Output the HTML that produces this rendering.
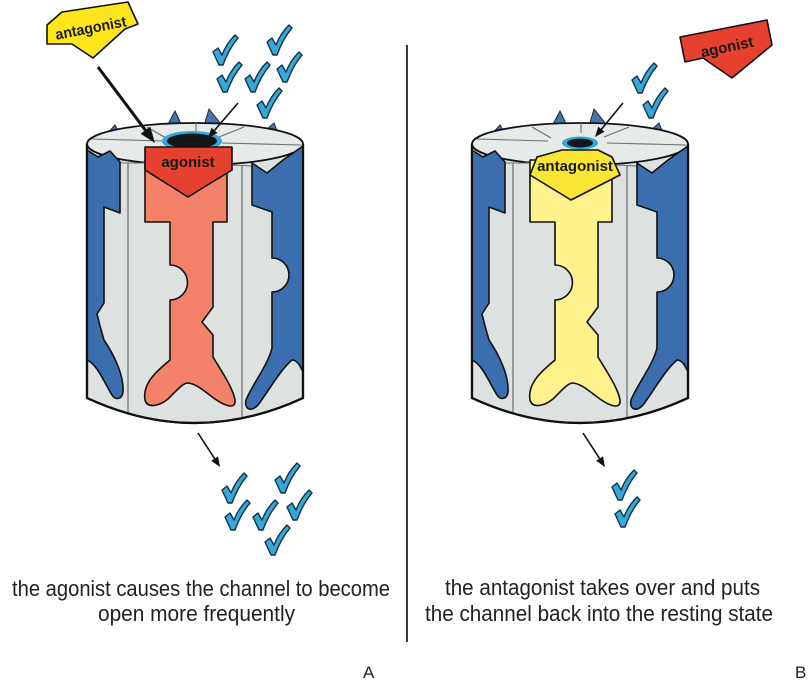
<!DOCTYPE html>
<html>
<head>
<meta charset="utf-8">
<style>
  html, body { margin: 0; padding: 0; background: #ffffff; }
  svg { display: block; }
  .cap { font-family: "Liberation Sans", Arial, sans-serif; font-size: 22px; fill: #222; }
  .lbl { font-family: "Liberation Sans", Arial, sans-serif; font-size: 15px; font-weight: bold; fill: #1a1a1a; }
  .ab { font-family: "Liberation Sans", Arial, sans-serif; font-size: 17px; fill: #222; }
</style>
</head>
<body>
<svg width="810" height="680" viewBox="0 0 810 680" xmlns="http://www.w3.org/2000/svg">
  <defs>
    <path id="ck" d="M0,17 L5,13 L9,20 C12,12 17,5 22,0 L25,3 C19,10 14,19 10,30 L6,30 Z"
          fill="#36a8d6" stroke="#13304a" stroke-width="1.4" stroke-linejoin="round"/>
    <path id="inner" stroke="#111" stroke-width="1.6" stroke-linejoin="round"
          d="M145,160 L145,222 L170,222 L170,265 A17.5,17.5 0 0 1 170,300 L170,360
             C158,370 142,383 145,400 C147,408 158,407 168,399 C176,391 182,384 187,383
             C196,383 205,392 215,399 C225,406 236,410 235,400 C233,388 222,372 213,357
             L213,335 L202,322 L213,307 L213,222 L227,222 L227,160 Z"/>
    <g id="cyl">
      <path d="M87,145 L87,398 Q195,448 303,398 L303,145 Z" fill="#dde2e1" stroke="#111" stroke-width="2.2"/>
      <g fill="#4a72ab" stroke="#1a2a3a" stroke-width="1">
        <polygon points="106,135 115,125 120,134"/>
        <polygon points="166,128 175,111 183,128"/>
        <polygon points="204,126 209,109 221,124"/>
        <polygon points="264,132 274,123 278,133"/>
      </g>
      <ellipse cx="195" cy="144" rx="108" ry="21" fill="#e6eae9" stroke="#111" stroke-width="1.8"/>
      <g stroke="#6b6f70" stroke-width="1.1">
        <line x1="147" y1="127" x2="166" y2="138"/>
        <line x1="92" y1="139" x2="163" y2="141"/>
        <line x1="196" y1="123" x2="196" y2="133"/>
        <line x1="244" y1="127" x2="219" y2="137"/>
        <line x1="222" y1="143" x2="301" y2="145"/>
        <line x1="120" y1="163" x2="145" y2="163"/>
        <line x1="232" y1="165" x2="252" y2="166"/>
      </g>
      <path fill="#3b6eae" stroke="#111" stroke-width="1.6" stroke-linejoin="round"
            d="M87,150 L98,157 L110,151 L120,162 L120,213 L104,207 L104,303 L97,314 L100,326 L104,340
               C114,355 124,375 123,392 C122,400 115,400 112,395 C104,382 97,364 87,360 Z"/>
      <path fill="#3b6eae" stroke="#111" stroke-width="1.6" stroke-linejoin="round"
            d="M303,146 L283,160 L267,173 L252,163 L252,205 L272,212 L272,258 A17,17 0 0 1 272,292 L272,348
               C268,365 252,385 246,400 C244,410 252,412 258,405 C268,392 280,370 292,360
               C298,360 301,368 303,372 Z"/>
      <g stroke="#6f7374" stroke-width="1.3">
        <line x1="128" y1="163" x2="128" y2="413"/>
        <line x1="242" y1="166" x2="242" y2="418"/>
      </g>
      <path d="M87,145 L87,398 Q195,448 303,398 L303,145" fill="none" stroke="#111" stroke-width="2.2"/>
    </g>
  </defs>

  <!-- ================= PANEL A ================= -->
  <use href="#cyl"/>
  <use href="#inner" fill="#f4826a"/>
  <ellipse cx="192" cy="141" rx="30" ry="10" fill="#2ca8df"/>
  <ellipse cx="192" cy="141" rx="25" ry="7.5" fill="#151515"/>
  <polygon points="145,147 232,147 232,170 188,197 145,170" fill="#e6402e" stroke="#111" stroke-width="1.6" stroke-linejoin="round"/>
  <text class="lbl" x="188" y="167" text-anchor="middle" font-size="16">agonist</text>

  <polygon points="47,44 47,25 62,12 128,2 138,24 125,29 93,58 72,44" fill="#ffe61c" stroke="#111" stroke-width="1.6" stroke-linejoin="round"/>
  <text class="lbl" x="91" y="33" text-anchor="middle" font-size="14" textLength="72" lengthAdjust="spacingAndGlyphs" transform="rotate(-11 91 29)">antagonist</text>

  <line x1="98" y1="67" x2="145.4" y2="130.2" stroke="#111" stroke-width="3"/>
  <polygon points="155,143 140.6,133.8 150.2,126.6" fill="#111"/>
  <line x1="238" y1="103" x2="214.5" y2="130.4" stroke="#111" stroke-width="1.6"/>
  <polygon points="208,138 211.5,127.8 217.5,133" fill="#111"/>
  <line x1="198" y1="433" x2="214.6" y2="458.6" stroke="#111" stroke-width="1.6"/>
  <polygon points="220,467 211.2,460.8 218,456.4" fill="#111"/>

  <use href="#ck" transform="translate(213,35)"/>
  <use href="#ck" transform="translate(267,25)"/>
  <use href="#ck" transform="translate(217,62)"/>
  <use href="#ck" transform="translate(245,62)"/>
  <use href="#ck" transform="translate(277,52)"/>
  <use href="#ck" transform="translate(257,88)"/>

  <use href="#ck" transform="translate(222,473)"/>
  <use href="#ck" transform="translate(275,463)"/>
  <use href="#ck" transform="translate(225,500)"/>
  <use href="#ck" transform="translate(253,500)"/>
  <use href="#ck" transform="translate(287,490)"/>
  <use href="#ck" transform="translate(265,525)"/>

  <!-- ================= PANEL B ================= -->
  <use href="#cyl" transform="translate(385,0)"/>
  <use href="#inner" fill="#fff28c" transform="translate(385,0)"/>
  <ellipse cx="580" cy="143" rx="18" ry="6.5" fill="#2ca8df"/>
  <ellipse cx="580" cy="143" rx="13" ry="4.5" fill="#151515"/>
  <polygon points="530,175 537,157 562,150 598,150 612,157 620,175 571,200" fill="#f9e534" stroke="#111" stroke-width="1.6" stroke-linejoin="round"/>
  <text class="lbl" x="575" y="171" text-anchor="middle">antagonist</text>

  <polygon points="680,37 767,20 772,45 732,78 703,58 685,62" fill="#e6402e" stroke="#111" stroke-width="1.6" stroke-linejoin="round"/>
  <text class="lbl" x="727" y="52" text-anchor="middle" transform="rotate(-12 727 47)">agonist</text>

  <line x1="623" y1="103" x2="601.4" y2="129.3" stroke="#111" stroke-width="1.6"/>
  <polygon points="595,137 598.3,126.7 604.5,131.8" fill="#111"/>
  <line x1="583" y1="433" x2="599.6" y2="458.6" stroke="#111" stroke-width="1.6"/>
  <polygon points="605,467 596.2,460.8 603,456.4" fill="#111"/>

  <use href="#ck" transform="translate(632,63)"/>
  <use href="#ck" transform="translate(643,88)"/>
  <use href="#ck" transform="translate(612,470)"/>
  <use href="#ck" transform="translate(615,497)"/>

  <line x1="407" y1="45" x2="407" y2="642" stroke="#3a3a3a" stroke-width="2"/>

  <text class="cap" x="12" y="596" textLength="378" lengthAdjust="spacingAndGlyphs">the agonist causes the channel to become</text>
  <text class="cap" x="98" y="621" textLength="197" lengthAdjust="spacingAndGlyphs">open more frequently</text>
  <text class="cap" x="445" y="595" textLength="315" lengthAdjust="spacingAndGlyphs">the antagonist takes over and puts</text>
  <text class="cap" x="425" y="621" textLength="348" lengthAdjust="spacingAndGlyphs">the channel back into the resting state</text>

  <text class="ab" x="363" y="678">A</text>
  <text class="ab" x="795" y="678">B</text>
</svg>
</body>
</html>
